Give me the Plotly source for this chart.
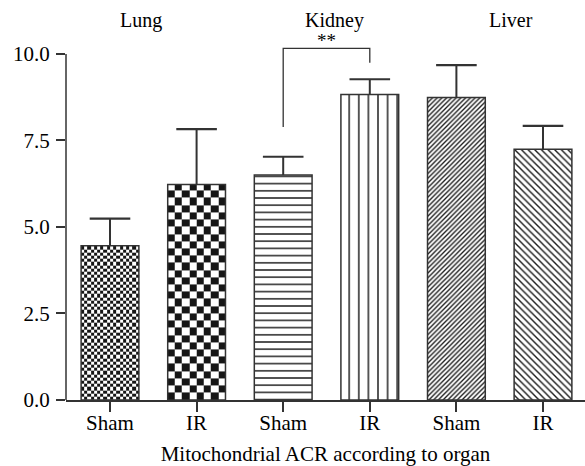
import numpy as np
import plotly.graph_objects as go

# Mitochondrial ACR per organ and group
groups = ["Sham", "IR", "Sham", "IR", "Sham", "IR"]
organs = ["Lung", "Kidney", "Liver"]
acr_mean = [4.46, 6.23, 6.50, 8.83, 8.74, 7.25]
acr_err = [0.78, 1.60, 0.53, 0.44, 0.94, 0.67]
y_ticks = [0.0, 2.5, 5.0, 7.5, 10.0]
signif_label = "**"

FONT = "Liberation Serif"
INK = "#333333"
W, H = 585, 466
M = dict(l=66, r=0, t=0, b=66)
X_RANGE = [-0.508, 5.485]
Y_RANGE = [0, 11.56]
BAR_W = 0.667

px_x = (W - M["l"] - M["r"]) / (X_RANGE[1] - X_RANGE[0])
px_y = (H - M["t"] - M["b"]) / (Y_RANGE[1] - Y_RANGE[0])

xpos = list(range(len(groups)))

# hatch style of each bar: (shape, tile size, solidity)
hatch = [None, None, ("-", 7.2, 0.2), ("|", 9.6, 0.15),
         ("/", 3.35, 0.4), ("\\", 4.7, 0.3)]


def checker(xc, top, ncols, phase=0):
    """Checkerboard fill for a bar, built as a heatmap on the data axes."""
    left, right = xc - BAR_W / 2, xc + BAR_W / 2
    xe = np.linspace(left, right, ncols + 1)
    cell = BAR_W / ncols * px_x / px_y
    nrows = int(np.ceil(top / cell))
    ye = np.minimum(np.arange(nrows + 1) * cell, top)
    z = (np.add.outer(np.arange(nrows), np.arange(ncols)) + phase) % 2
    return go.Heatmap(
        x=xe, y=ye, z=z, zmin=0, zmax=1,
        colorscale=[[0, "white"], [1, "#161616"]],
        showscale=False, hoverinfo="skip",
    )


fig = go.Figure()
fig.add_trace(checker(xpos[0], acr_mean[0], 18, 0))
fig.add_trace(checker(xpos[1], acr_mean[1], 8, 1))

for i, (x, v) in enumerate(zip(xpos, acr_mean)):
    marker = dict(line=dict(color=INK, width=1.5))
    if hatch[i] is None:
        marker["color"] = "rgba(0,0,0,0)"
    else:
        shp, sz, sol = hatch[i]
        marker["color"] = "white"
        marker["pattern"] = dict(shape=shp, size=sz, solidity=sol,
                                 fgcolor="#1a1a1a", fgopacity=1,
                                 bgcolor="white")
    fig.add_trace(go.Bar(x=[x], y=[v], width=BAR_W, marker=marker,
                         hoverinfo="skip"))

# upper error whiskers with caps
wx, wy = [], []
for x, v, e in zip(xpos, acr_mean, acr_err):
    wx += [x, x, None]
    wy += [v, v + e, None]
fig.add_trace(go.Scatter(x=wx, y=wy, mode="lines",
                         line=dict(color=INK, width=2), hoverinfo="skip"))
fig.add_trace(go.Scatter(
    x=xpos, y=[v + e for v, e in zip(acr_mean, acr_err)], mode="markers",
    marker=dict(symbol="line-ew", size=29, line=dict(color=INK, width=2.2)),
    hoverinfo="skip"))

# y axis line stops at the last tick
fig.add_shape(type="line", xref="paper", yref="y", x0=0, x1=0, y0=0, y1=10,
              line=dict(color=INK, width=1.5))

# significance bracket between kidney groups
fig.add_shape(type="path", xref="x", yref="y",
              path="M 2,7.89 L 2,10.16 L 3,10.16 L 3,9.75",
              line=dict(color=INK, width=1.3))
fig.add_annotation(x=2.5, y=10.38, text=signif_label, showarrow=False,
                   font=dict(family=FONT, size=19, color="black"))

# organ labels
for org, xo in zip(organs, [0.36, 2.59, 4.63]):
    fig.add_annotation(x=xo, y=10.98, text=org, showarrow=False,
                       font=dict(family=FONT, size=20, color="black"))

fig.update_layout(
    width=W, height=H, margin=M,
    paper_bgcolor="white", plot_bgcolor="white",
    showlegend=False, barmode="overlay",
    font=dict(family=FONT, size=21, color="black"),
    xaxis=dict(
        range=X_RANGE, tickvals=xpos, ticktext=groups,
        tickfont=dict(size=21),
        showline=True, linecolor=INK, linewidth=1.5,
        ticks="outside", ticklen=10, tickwidth=1.5, tickcolor=INK,
        showgrid=False, zeroline=False, ticklabelstandoff=-7,
        title=dict(text="Mitochondrial ACR according to organ", standoff=13,
                   font=dict(family=FONT, size=21)),
    ),
    yaxis=dict(
        range=Y_RANGE, tickvals=y_ticks,
        ticktext=[f"{v:.1f}" for v in y_ticks], tickfont=dict(size=21),
        showline=False, ticks="outside", ticklen=9, tickwidth=1.5,
        tickcolor=INK, showgrid=False, zeroline=False, ticklabelstandoff=2,
    ),
)

fig.write_html("out.html")
